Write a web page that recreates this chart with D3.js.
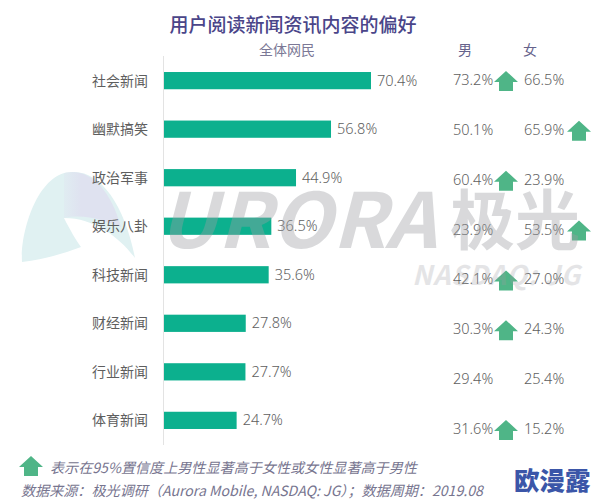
<!DOCTYPE html>
<html lang="zh">
<head>
<meta charset="utf-8">
<title>用户阅读新闻资讯内容的偏好</title>
<script src="https://d3js.org/d3.v7.min.js"></script>
<style>
  html, body { margin: 0; padding: 0; background: #fff; }
  svg { display: block; }
  text { font-family: "Noto Sans CJK SC", "Noto Sans", sans-serif; }
  text.num { font-family: "Noto Sans", "Noto Sans CJK SC", sans-serif; font-weight: 300; }
</style>
</head>
<body>
<script>
// data
var categories = ["社会新闻", "幽默搞笑", "政治军事", "娱乐八卦", "科技新闻", "财经新闻", "行业新闻", "体育新闻"];
var allValues = [70.4, 56.8, 44.9, 36.5, 35.6, 27.8, 27.7, 24.7];
var maleValues = [73.2, 50.1, 60.4, 23.9, 42.1, 30.3, 29.4, 31.6];
var femaleValues = [66.5, 65.9, 23.9, 53.5, 27.0, 24.3, 25.4, 15.2];
var maleSig = ["社会新闻", "政治军事", "科技新闻", "财经新闻", "体育新闻"];
var femaleSig = ["幽默搞笑", "娱乐八卦"];

var width = 594, height = 501;

var svg = d3.select("body").append("svg")
  .attr("width", width)
  .attr("height", height);

var x = d3.scaleLinear().domain([0, 70.4]).range([164, 371]);
var y = d3.scaleBand().domain(categories).range([56, 445]).paddingInner(0.645).paddingOuter(0.33);
// the two gender columns sit on a slightly wider spacing than the bars
var yRight = d3.scalePoint().domain(categories).range([80, 429]);

var arrowPath = "M0,0 L12,11 L7,11 L7,20 L-7,20 L-7,11 L-12,11 Z";
var arrowColor = "#4fb587";
var textColor = "#5e5e5e";

// title and headers
svg.append("text").attr("x", 293).attr("y", 32).attr("text-anchor", "middle")
  .attr("font-size", 19).attr("font-weight", 500).attr("fill", "#4a4589")
  .text("用户阅读新闻资讯内容的偏好");
svg.append("text").attr("x", 287).attr("y", 55).attr("text-anchor", "middle")
  .attr("font-size", 14).attr("fill", "#7b7896").text("全体网民");
svg.append("text").attr("x", 465).attr("y", 55).attr("text-anchor", "middle")
  .attr("font-size", 14).attr("fill", "#66638c").text("男");
svg.append("text").attr("x", 530).attr("y", 55).attr("text-anchor", "middle")
  .attr("font-size", 14).attr("fill", "#66638c").text("女");

// logo behind everything, the lavender part fades out to the left
var fade = svg.append("defs").append("linearGradient").attr("id", "logoFade");
fade.append("stop").attr("offset", 0).attr("stop-color", "#dfe2f0").attr("stop-opacity", 0.3);
fade.append("stop").attr("offset", 0.3).attr("stop-color", "#dfe2f0");
svg.append("path")
  .attr("d", "M22,262 C20,232 38,172 72,172 C100,170 125,205 135,258 C120,238 95,218 64,218 C70,230 76,240 81,247 C60,255 40,260 22,262 Z")
  .attr("fill", "#e0f1f2");
svg.append("path")
  .attr("d", "M64,173 C88,167 110,187 121,227 C105,221 85,213 64,218 Z")
  .attr("fill", "url(#logoFade)");

// axis line
svg.append("line").attr("x1", 163.5).attr("x2", 163.5).attr("y1", 56).attr("y2", 445)
  .attr("stroke", "#e3e3e3").attr("stroke-width", 1);

// bars
svg.selectAll("rect.bar")
  .data(allValues)
  .enter()
  .append("rect")
    .attr("class", "bar")
    .attr("x", x(0))
    .attr("y", (d, i) => y(categories[i]))
    .attr("width", d => x(d) - x(0))
    .attr("height", y.bandwidth())
    .attr("fill", "#0cb08e");

// category labels
svg.selectAll("text.cat")
  .data(categories)
  .enter()
  .append("text")
    .attr("class", "cat")
    .attr("x", 148)
    .attr("y", d => y(d) + y.bandwidth() / 2 + 5)
    .attr("text-anchor", "end")
    .attr("font-size", 14)
    .attr("fill", textColor)
    .text(d => d);

// bar labels
svg.selectAll("text.all")
  .data(allValues)
  .enter()
  .append("text")
    .attr("class", "all num")
    .attr("x", d => x(d) + 6)
    .attr("y", (d, i) => y(categories[i]) + y.bandwidth() / 2 + 5)
    .attr("font-size", 14.5)
    .attr("fill", textColor)
    .text(d => d.toFixed(1) + "%");

// gender columns
function column(values, sig, textX, arrowX) {
  svg.selectAll(null)
    .data(values)
    .enter()
    .append("text")
      .attr("class", "num")
      .attr("x", textX)
      .attr("y", (d, i) => yRight(categories[i]) + 5)
      .attr("font-size", 14.5)
      .attr("fill", textColor)
      .text(d => d.toFixed(1) + "%");
  svg.selectAll(null)
    .data(sig)
    .enter()
    .append("path")
      .attr("d", arrowPath)
      .attr("fill", arrowColor)
      .attr("transform", d => "translate(" + arrowX + "," + (yRight(d) - 9) + ")");
}
column(maleValues, maleSig, 453, 506);
column(femaleValues, femaleSig, 524, 579);

// watermark on top, it darkens the bars it crosses
var mark = svg.append("g").attr("fill", "#9c9ea3").attr("opacity", 0.38)
  .attr("font-family", "'Liberation Sans', sans-serif");
mark.append("text").attr("x", 158).attr("y", 248)
  .attr("font-size", 76).attr("font-weight", 700).attr("font-style", "italic")
  .attr("textLength", 278).attr("lengthAdjust", "spacingAndGlyphs").text("URORA");
mark.append("text").attr("x", 450).attr("y", 244)
  .attr("font-size", 65).attr("font-weight", 700).style("font-family", "'Noto Sans CJK SC'")
  .text("极光");
mark.append("text").attr("x", 412).attr("y", 285)
  .attr("font-size", 27).attr("font-weight", 700).attr("font-style", "italic").attr("opacity", 0.7)
  .attr("textLength", 168).attr("lengthAdjust", "spacing").text("NASDAQ: JG");

// footnotes
svg.append("path").attr("d", arrowPath).attr("fill", arrowColor)
  .attr("transform", "translate(31,456)");
svg.append("text").attr("x", 50).attr("y", 473)
  .attr("font-size", 14.1).attr("font-style", "italic").attr("fill", "#77758f")
  .text("表示在95%置信度上男性显著高于女性或女性显著高于男性");
svg.append("text").attr("x", 21).attr("y", 496)
  .attr("font-size", 14.1).attr("font-style", "italic").attr("fill", "#77758f")
  .text("数据来源：极光调研（Aurora Mobile, NASDAQ: JG）；数据周期：2019.08");

// corner stamp
svg.append("text").attr("x", 514).attr("y", 490)
  .attr("font-size", 25.5).attr("font-weight", 900).attr("fill", "#3b56a8")
  .text("欧漫露");
</script>
</body>
</html>
